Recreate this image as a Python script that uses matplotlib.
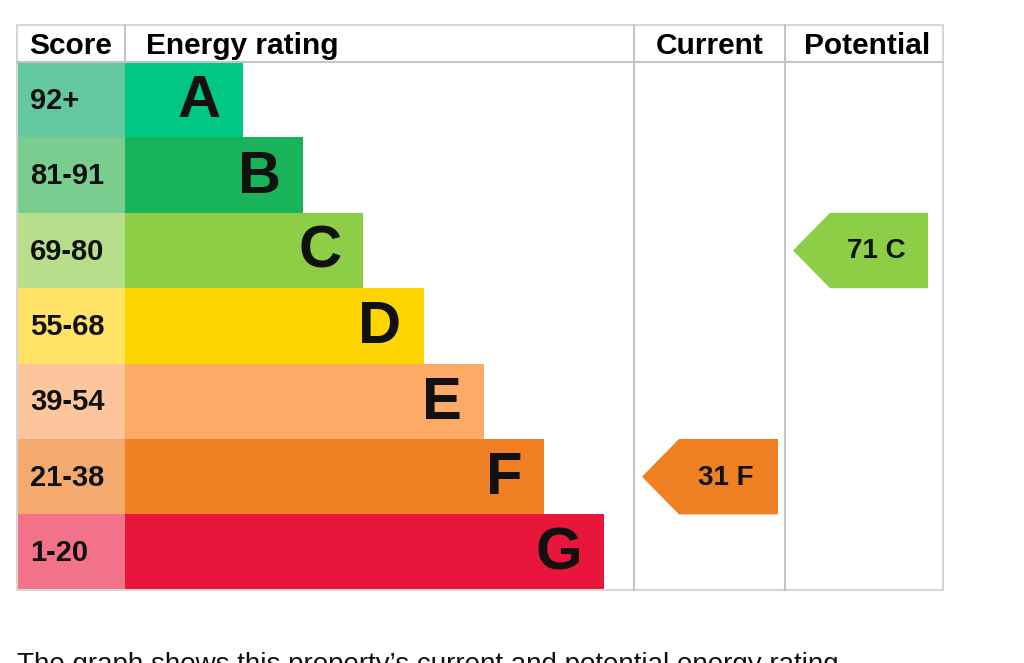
import matplotlib.pyplot as plt
from matplotlib.patches import Rectangle, Polygon

# Data
bands = ["A", "B", "C", "D", "E", "F", "G"]
score_ranges = ["92+", "81-91", "69-80", "55-68", "39-54", "21-38", "1-20"]
band_min = [92, 81, 69, 55, 39, 21, 1]
bar_colors = ["#00c781", "#19b459", "#8dce46", "#ffd500", "#fcaa65", "#ef8023", "#e9153b"]
score_colors = ["#64c8a2", "#78cd8f", "#b7df8b", "#ffe366", "#fdc59b", "#f4a96f", "#f27389"]
current_score = 31
potential_score = 71

plt.rcParams['font.family'] = ['Liberation Sans', 'DejaVu Sans']

# Layout in pixels (axes spans the whole figure)
left, score_right, table_right = 17, 125, 943
cur_left, pot_left = 634, 785
top, header_bottom, row_h = 25, 62, 75.4
bar_start, bar_len0, bar_step = 125, 118, 60.2
grid_col = "#c4c4c4"

fig = plt.figure(figsize=(10.24, 6.63), dpi=100)
ax = fig.add_axes([0, 0, 1, 1])
ax.set_xlim(0, 1024)
ax.set_ylim(663, 0)
ax.axis('off')

bottom = header_bottom + row_h * len(bands)

# Rows
for i, band in enumerate(bands):
    y0 = header_bottom + i * row_h
    ax.add_patch(Rectangle((left, y0), score_right - left, row_h, color=score_colors[i], lw=0))
    end = bar_start + bar_len0 + i * bar_step
    ax.add_patch(Rectangle((bar_start, y0), end - bar_start, row_h, color=bar_colors[i], lw=0))
    ax.text(30, y0 + row_h / 2 + 1, score_ranges[i], fontsize=21, fontweight='bold',
            ha='left', va='center', color='#111111')
    ax.text(end - 22, y0 + row_h / 2 + 2, band, fontsize=43, fontweight='bold',
            ha='right', va='center', color='#111111')

# Grid lines
lw = 1.5
ax.plot([left, table_right, table_right, left, left], [top, top, bottom, bottom, top],
        color="#d6d6d6", lw=lw, solid_joinstyle='miter')
ax.plot([left, table_right], [header_bottom, header_bottom], color=grid_col, lw=lw)
ax.plot([score_right, score_right], [top, header_bottom], color=grid_col, lw=lw)
for x in (cur_left, pot_left):
    ax.plot([x, x], [top, bottom], color=grid_col, lw=lw)

# Headers
hy = 46
hs = 21.5
ax.text((left + score_right) / 2, hy, "Score", fontsize=hs, fontweight='bold', ha='center', va='center')
ax.text(146, hy, "Energy rating", fontsize=hs, fontweight='bold', ha='left', va='center')
ax.text((cur_left + pot_left) / 2, hy, "Current", fontsize=hs, fontweight='bold', ha='center', va='center')
ax.text((pot_left + table_right) / 2 + 3, hy, "Potential", fontsize=hs, fontweight='bold', ha='center', va='center')


def band_index(score):
    for i, m in enumerate(band_min):
        if score >= m:
            return i
    return len(bands) - 1


def arrow(score, tip_x, right_x):
    i = band_index(score)
    y0 = header_bottom + i * row_h
    y1 = y0 + row_h
    ym = (y0 + y1) / 2
    shoulder = tip_x + 37
    ax.add_patch(Polygon([(tip_x, ym), (shoulder, y0), (right_x, y0), (right_x, y1), (shoulder, y1)],
                         closed=True, color=bar_colors[i], lw=0))
    ax.text((shoulder + right_x) / 2 - 3, ym + 1, f"{score} {bands[i]}", fontsize=20,
            fontweight='bold', ha='center', va='center', color='#111111')


arrow(current_score, 642, 778)
arrow(potential_score, 793, 928)

# Caption (cut off at the bottom edge, as in the source page)
ax.text(17, 652, "The graph shows this property\u2019s current and potential energy rating.",
        fontsize=20, ha='left', va='top', color='#111111')

fig.savefig("out.png", dpi=100)
